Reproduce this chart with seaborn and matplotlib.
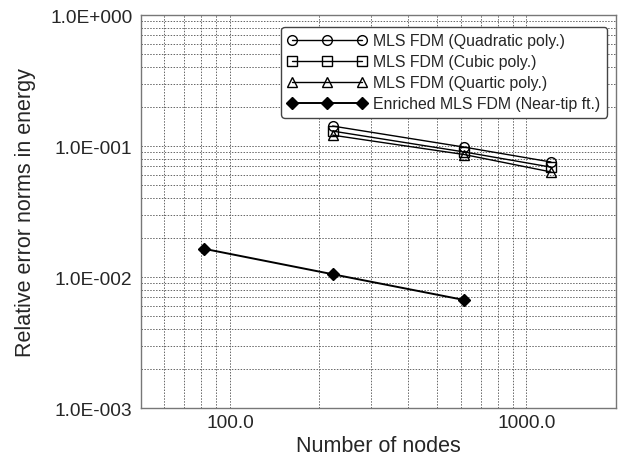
import numpy as np
import pandas as pd
import matplotlib.pyplot as plt
import seaborn as sns
from matplotlib.ticker import FuncFormatter, LogLocator, NullFormatter

# values
nodes_mls = [222, 618, 1210]
err_quadratic = [0.142, 0.098, 0.0755]
err_cubic = [0.130, 0.090, 0.069]
err_quartic = [0.121, 0.086, 0.0634]

nodes_enriched = [82, 222, 618]
err_enriched = [0.0164, 0.0105, 0.00667]

labels = ['MLS FDM (Quadratic poly.)', 'MLS FDM (Cubic poly.)',
          'MLS FDM (Quartic poly.)', 'Enriched MLS FDM (Near-tip ft.)']

sns.set_style('white')
plt.rcParams['font.family'] = ['Liberation Sans', 'DejaVu Sans']

fig = plt.figure(figsize=(6.2, 4.64), dpi=100)
ax = fig.add_axes([0.227, 0.1185, 0.766, 0.847])

series = [
    (nodes_mls, err_quadratic, 'o', 'none', 1.0),
    (nodes_mls, err_cubic, 's', 'none', 1.0),
    (nodes_mls, err_quartic, '^', 'none', 1.0),
    (nodes_enriched, err_enriched, 'D', 'black', 1.4),
]
for (x, y, m, fc, lw), lab in zip(series, labels):
    df = pd.DataFrame({'nodes': x, 'err': y})
    sns.lineplot(data=df, x='nodes', y='err', ax=ax, color='black', lw=lw,
                 marker=m, markersize=7 if m != 'D' else 6,
                 markerfacecolor=fc, markeredgecolor='black',
                 markeredgewidth=1.0, label=lab)

ax.set_xscale('log')
ax.set_yscale('log')
ax.set_xlim(50, 2000)
ax.set_ylim(1e-3, 1.0)

ax.xaxis.set_major_locator(LogLocator(base=10))
ax.xaxis.set_minor_locator(LogLocator(base=10, subs=np.arange(2, 10)))
ax.yaxis.set_major_locator(LogLocator(base=10))
ax.yaxis.set_minor_locator(LogLocator(base=10, subs=np.arange(2, 10)))
ax.xaxis.set_minor_formatter(NullFormatter())
ax.yaxis.set_minor_formatter(NullFormatter())
ax.xaxis.set_major_formatter(FuncFormatter(lambda v, p: f'{v:.1f}'))


def sci(v, p):
    e = int(np.round(np.log10(v)))
    sign = '+' if e >= 0 else '-'
    return f'1.0E{sign}{abs(e):03d}'


ax.yaxis.set_major_formatter(FuncFormatter(sci))

ax.grid(True, which='both', color='#666666', linestyle=(0, (1.5, 1.5)), lw=0.7)
ax.tick_params(axis='both', which='major', labelsize=13.8, direction='in',
               length=5, color='#666666')
ax.tick_params(axis='both', which='minor', direction='in', length=3,
               color='#666666')
ax.tick_params(axis='x', pad=4)
ax.tick_params(axis='y', pad=6)
for s in ax.spines.values():
    s.set_color('#777777')
    s.set_linewidth(1.0)

ax.set_xlabel('Number of nodes', fontsize=15.5, labelpad=3)
ax.set_ylabel('Relative error norms in energy', fontsize=15.5, labelpad=10)

leg = ax.legend(loc='upper right', bbox_to_anchor=(0.998, 0.99), numpoints=3,
                fontsize=11.4, handlelength=5.0, handletextpad=0.4,
                labelspacing=0.38, borderpad=0.4, frameon=True, fancybox=True,
                framealpha=1)
leg.get_frame().set_edgecolor('#444444')
leg.get_frame().set_linewidth(1.0)

fig.savefig('out.png', dpi=100)
